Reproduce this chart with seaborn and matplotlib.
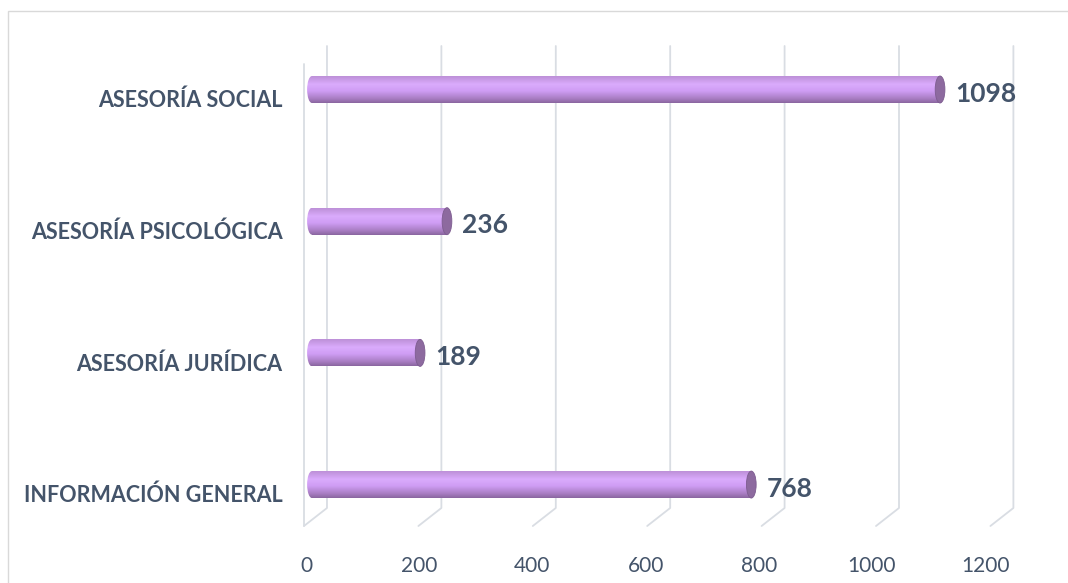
import numpy as np
import matplotlib
matplotlib.use("Agg")
import matplotlib.pyplot as plt
import matplotlib.transforms as mtransforms
from matplotlib.patches import Ellipse, Rectangle
from matplotlib.colors import LinearSegmentedColormap
import seaborn as sns

categories = ["ASESORÍA SOCIAL", "ASESORÍA PSICOLÓGICA", "ASESORÍA JURÍDICA", "INFORMACIÓN GENERAL"]
values = [1098, 236, 189, 768]
ticks = [0, 200, 400, 600, 800, 1000, 1200]

sns.set_style("white")
plt.rcParams["font.family"] = ["Lato", "DejaVu Sans"]
text_color = "#44546A"
grid_color = "#D9DDE3"

W, H = 1068, 583
fig = plt.figure(figsize=(W / 100, H / 100), dpi=100)
ax = fig.add_axes([303.4 / W, 1 - 545 / H, 723.6 / W, 500 / H])
ax.set_zorder(2)

sns.barplot(x=values, y=categories, orient="h", color="#CC99FF", width=0.205, ax=ax, zorder=3)
sns.despine(ax=ax, left=True, bottom=True)
ax.set_xlabel("")
ax.set_ylabel("")

# cylinder shading
cmap = LinearSegmentedColormap.from_list(
    "cyl", [(0, "#BD90D8"), (0.3, "#DAABFC"), (0.55, "#CF9DF4"), (0.85, "#A77CC1"), (1, "#8A66A0")])
grad = np.linspace(0, 1, 64).reshape(-1, 1)
cap_w = 17.0
for p in ax.patches[:len(values)]:
    x0, y0, w, h = p.get_x(), p.get_y(), p.get_width(), p.get_height()
    yc = y0 + h / 2
    p.set_alpha(0)
    body = Rectangle((x0, y0), w, h, transform=ax.transData)
    im = ax.imshow(grad, cmap=cmap, aspect="auto", extent=(x0, x0 + w, y0 + h, y0), zorder=4)
    im.set_clip_path(body)
    left = Ellipse((x0, yc), cap_w, h, transform=ax.transData)
    im2 = ax.imshow(grad, cmap=cmap, aspect="auto", extent=(x0 - cap_w, x0 + cap_w, y0 + h, y0), zorder=4)
    im2.set_clip_path(left)
    ax.add_patch(Ellipse((x0 + w, yc), cap_w, h, facecolor="#8D6A9F", edgecolor="#7D5C90",
                         lw=0.6, zorder=5))
    ax.annotate(f"{int(w)}", (x0 + w, yc), xytext=(11, -3), textcoords="offset points",
                ha="left", va="center", fontsize=19, fontweight="bold", color=text_color, zorder=6)
ax.set_ylim(3.459, -0.338)
ax.set_xlim(-15, 1250)

# 3D style gridlines (back wall + floor slant)
fig.canvas.draw()
to_fig = fig.transFigure.inverted()
for t in ticks:
    xb = ax.transData.transform((t, 0))[0] + 15
    pts = to_fig.transform([(xb, H - 46), (xb, H - 508), (xb - 23, H - 526)])
    fig.add_artist(plt.Line2D(pts[:, 0], pts[:, 1], color=grid_color, lw=1.3, zorder=1))
xf = ax.transData.transform((0, 0))[0] - 8
pts = to_fig.transform([(xf, H - 64), (xf, H - 526)])
fig.add_artist(plt.Line2D(pts[:, 0], pts[:, 1], color=grid_color, lw=1.3, zorder=1))

# x tick labels on the front edge of the floor
ax.set_xticks(ticks)
ax.set_xticklabels([])
ax.tick_params(axis="x", length=0)
for t in ticks:
    off = mtransforms.ScaledTranslation((-6 - 0.006 * t) / 100, 0, fig.dpi_scale_trans)
    ax.text(t, -0.022, str(t), transform=ax.get_xaxis_transform() + off,
            ha="center", va="top", fontsize=15, color=text_color, clip_on=False)

# category labels sit on the front plane, a bit below the bar centres
ax.set_yticks(np.arange(len(categories)) + 0.068)
ax.set_yticklabels(categories)
ax.tick_params(axis="y", length=0, pad=15)
for lab in ax.get_yticklabels():
    lab.set_fontsize(15.5)
    lab.set_fontweight("bold")
    lab.set_color(text_color)
ax.patch.set_alpha(0)

fig.add_artist(Rectangle((8 / W, -0.05), 1.1, 1 - 11 / H + 0.05, transform=fig.transFigure,
                         fill=False, edgecolor="#D9D9D9", lw=1, zorder=0))

fig.savefig("out.png", dpi=100)
